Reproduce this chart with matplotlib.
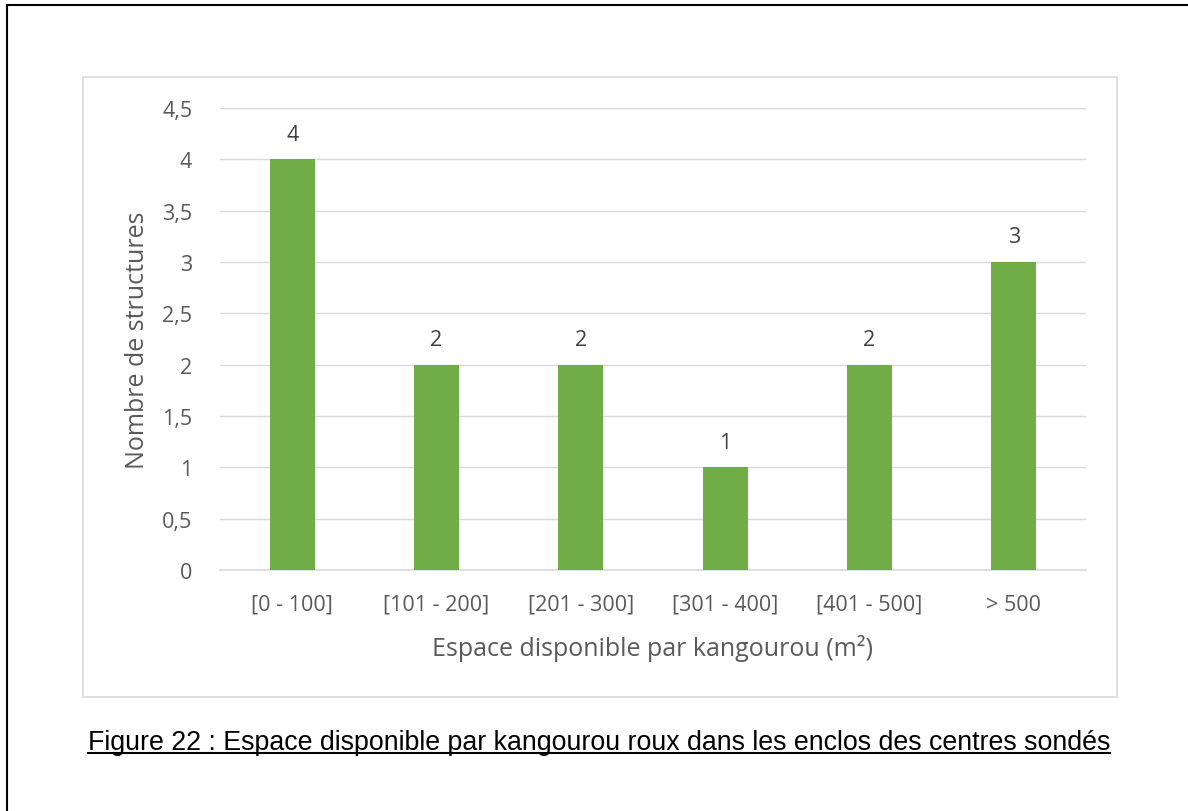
import matplotlib
matplotlib.use("Agg")
import matplotlib.pyplot as plt
from matplotlib.patches import Rectangle
from matplotlib.lines import Line2D

categories = ["[0 - 100]", "[101 - 200]", "[201 - 300]", "[301 - 400]", "[401 - 500]", "> 500"]
values = [4, 2, 2, 1, 2, 3]
yticks = [0, 0.5, 1, 1.5, 2, 2.5, 3, 3.5, 4, 4.5]
ytick_labels = ["0", "0,5", "1", "1,5", "2", "2,5", "3", "3,5", "4", "4,5"]
xlabel = "Espace disponible par kangourou (m²)"
ylabel = "Nombre de structures"
caption = "Figure 22 : Espace disponible par kangourou roux dans les enclos des centres sondés"

W, H = 1188, 812
fig = plt.figure(figsize=(W / 100, H / 100), dpi=100)
fig.patch.set_facecolor("white")

def fx(px):
    return px / W

def fy(py):
    return 1 - py / H

FONT = ["Open Sans", "DejaVu Sans"]
TXT = "#595959"

# page border (top and left)
fig.add_artist(Line2D([fx(7), fx(7)], [fy(6), 0], transform=fig.transFigure, color="black", lw=1.5))
fig.add_artist(Line2D([fx(7), 1], [fy(6), fy(6)], transform=fig.transFigure, color="black", lw=1.5))

# chart area box
fig.add_artist(Rectangle((fx(83), fy(698)), fx(1117) - fx(83), fy(78) - fy(698),
                         transform=fig.transFigure, fill=False, edgecolor="#d9d9d9", lw=1.2))

ax = fig.add_axes([fx(220), fy(571), fx(1086) - fx(220), fy(109) - fy(571)])
x = list(range(len(categories)))
ax.bar(x, values, width=0.31, color="#70ad47", zorder=3)
ax.set_xlim(-0.5, len(categories) - 0.5)
ax.set_ylim(0, 4.5)
ax.set_yticks(yticks)
ax.set_yticklabels(ytick_labels)
ax.set_xticks(x)
ax.set_xticklabels(categories)
ax.yaxis.grid(True, color="#d9d9d9", lw=1, zorder=0)
ax.set_axisbelow(True)
for s in ["top", "right", "left"]:
    ax.spines[s].set_visible(False)
ax.spines["bottom"].set_color("#d9d9d9")
ax.spines["bottom"].set_linewidth(1.2)
ax.tick_params(length=0, labelsize=15.5, labelcolor=TXT)
ax.tick_params(axis="x", pad=17)
ax.tick_params(axis="y", pad=20)
for lab in ax.get_xticklabels() + ax.get_yticklabels():
    lab.set_fontfamily(FONT)

for xi, v in zip(x, values):
    ax.annotate(str(v), (xi, v), xytext=(0, 10.5), textcoords="offset points",
                ha="center", va="bottom", fontsize=15.5, color="#404040", family=FONT)

fig.text(fx(653), fy(649), xlabel, ha="center", va="center", fontsize=18, color=TXT, family=FONT)
fig.text(fx(137), fy(340), ylabel, ha="center", va="center", rotation=90, fontsize=18, color=TXT, family=FONT)

cap = fig.text(fx(599), fy(750), caption, ha="center", va="baseline", fontsize=19.3, color="black",
               family=["Liberation Sans", "DejaVu Sans"])
fig.canvas.draw()
bb = cap.get_window_extent(renderer=fig.canvas.get_renderer())
uy = fy(754)
fig.add_artist(Line2D([bb.x0 / W, bb.x1 / W], [uy, uy], transform=fig.transFigure, color="black", lw=1.5))

fig.savefig("out.png", dpi=100, facecolor="white")
